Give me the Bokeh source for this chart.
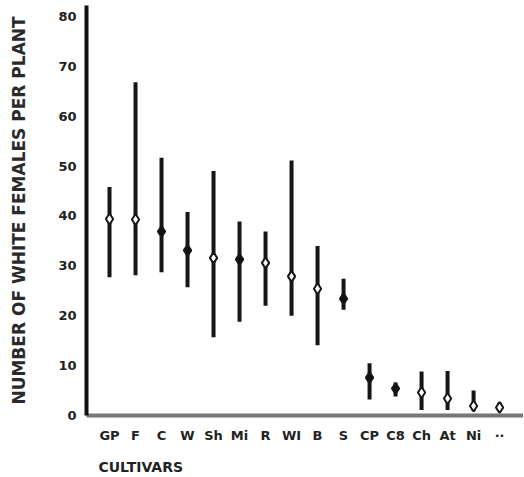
from bokeh.plotting import figure
from bokeh.models import Range1d, FixedTicker, LinearAxis, ColumnDataSource
from bokeh.embed import file_html
from bokeh.resources import INLINE

cultivars = ["GP", "F", "C", "W", "Sh", "Mi", "R", "WI", "B", "S", "CP", "C8", "Ch", "At", "Ni", "··"]
means = [39.4, 39.3, 36.9, 33.1, 31.6, 31.3, 30.6, 27.9, 25.4, 23.4, 7.6, 5.4, 4.6, 3.4, 1.9, 1.6]
upper = [45.8, 66.8, 51.7, 40.8, 49.0, 38.9, 36.9, 51.1, 34.0, 27.4, 10.5, 6.6, 8.8, 8.9, 5.0, 2.6]
lower = [27.7, 28.1, 28.7, 25.7, 15.7, 18.8, 22.0, 20.0, 14.1, 21.2, 3.2, 3.8, 1.1, 1.1, 0.9, 1.2]
filled = [False, False, True, True, False, True, False, False, False, True, True, True, False, False, False, False]
y_ticks = [0, 10, 20, 30, 40, 50, 60, 70, 80]
x_title = "CULTIVARS"

xs = list(range(len(cultivars)))
fills = ["#111111" if f else "white" for f in filled]
src = ColumnDataSource(dict(x=xs, m=means, hi=upper, lo=lower, fill=fills))

p = figure(width=523, height=477, output_backend="svg", toolbar_location=None,
           x_range=Range1d(-0.885, 15.92), y_range=Range1d(0, 82.2),
           min_border_left=86, min_border_right=0, min_border_top=5, min_border_bottom=0)
p.outline_line_color = None
p.grid.visible = False
p.background_fill_color = "white"

p.segment(x0="x", y0="lo", x1="x", y1="hi", source=src, line_color="#161616", line_width=4)
p.scatter(x="x", y="m", source=src, marker="diamond", size=11, fill_color="fill",
          line_color="#161616", line_width=2)

# y axis
ya = p.yaxis[0]
ya.ticker = FixedTicker(ticks=y_ticks)
ya.axis_label = "NUMBER OF WHITE FEMALES PER PLANT"
ya.axis_label_text_font = "DejaVu Sans"
ya.axis_label_text_font_style = "bold"
ya.axis_label_text_font_size = "17px"
ya.axis_label_text_color = "#2a2a2a"
ya.axis_label_standoff = 26
ya.major_label_text_font = "DejaVu Sans"
ya.major_label_text_font_style = "bold"
ya.major_label_text_font_size = "13px"
ya.major_label_text_color = "#222222"
ya.major_label_standoff = 4
ya.major_tick_line_color = None
ya.minor_tick_line_color = None
ya.axis_line_color = "#111111"
ya.axis_line_width = 4

# x axis
xa = p.xaxis[0]
xa.ticker = FixedTicker(ticks=xs)
xa.major_label_overrides = {i: c for i, c in enumerate(cultivars)}
xa.major_label_text_font = "DejaVu Sans"
xa.major_label_text_font_style = "bold"
xa.major_label_text_font_size = "13px"
xa.major_label_text_color = "#222222"
xa.major_label_standoff = 6
xa.major_tick_line_color = None
xa.minor_tick_line_color = None
xa.axis_line_color = "#777777"
xa.axis_line_width = 4

# x-axis title, set under the first cultivars as in the original
xt = LinearAxis(ticker=FixedTicker(ticks=[1.2]), major_label_overrides={1.2: x_title},
                axis_line_color=None, major_tick_line_color=None, minor_tick_line_color=None,
                major_label_standoff=7, major_label_text_font="DejaVu Sans",
                major_label_text_font_style="bold", major_label_text_font_size="14px",
                major_label_text_color="#222222")
p.add_layout(xt, "below")

open("out.html", "w").write(file_html(p, INLINE))
